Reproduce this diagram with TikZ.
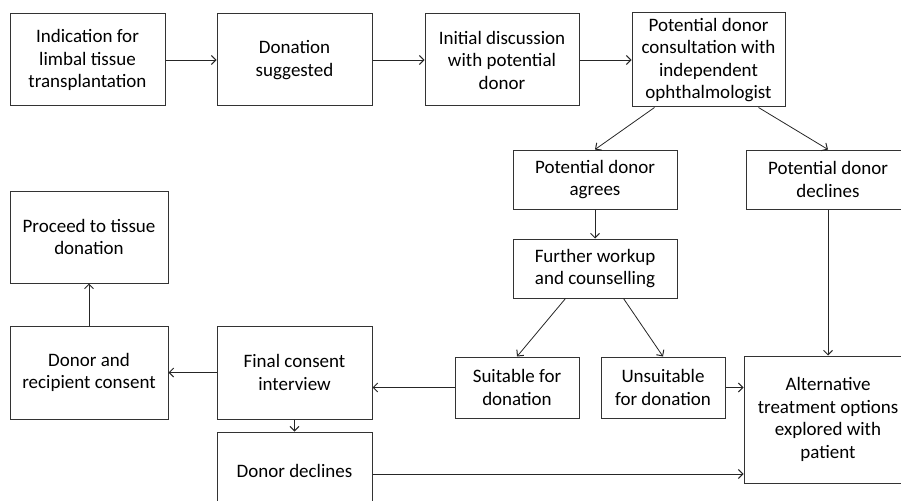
\documentclass[tikz,border=0pt]{standalone}
\usepackage{fontspec}
\setmainfont{Carlito}
\usetikzlibrary{arrows.meta}
\begin{document}
\begin{tikzpicture}
  [x=1pt,y=-1pt,
   every node/.style={draw=black!80,line width=1pt,align=center,inner sep=0pt,
     font=\fontsize{19}{22.5}\selectfont},
   flow/.style={-{Straight Barb[length=4.5pt,width=9pt,line width=1pt]},line width=0.8pt,draw=black!85}]
  \useasboundingbox (0,0) rectangle (901,500);
  % top row
  \node[minimum width=155,minimum height=92] (ind) at (87.5,60) {Indication for\\limbal tissue\\transplantation};
  \node[minimum width=155,minimum height=92] (sugg) at (294.5,60) {Donation\\suggested};
  \node[minimum width=154,minimum height=92] (init) at (502,60) {Initial discussion\\with potential\\donor};
  \node[minimum width=153,minimum height=94] (cons) at (708.5,60) {Potential donor\\consultation with\\independent\\ophthalmologist};
  % right branch
  \node[minimum width=164,minimum height=59] (agree) at (595,179.5) {Potential donor\\agrees};
  \node[minimum width=164,minimum height=59] (decl) at (828,179.5) {Potential donor\\declines};
  \node[minimum width=164,minimum height=59] (work) at (595,268.5) {Further workup\\and counselling};
  \node[minimum width=124,minimum height=61] (suit) at (517,387.5) {Suitable for\\donation};
  \node[minimum width=124,minimum height=61] (unsuit) at (663,387.5) {Unsuitable\\for donation};
  \node[minimum width=168,minimum height=127] (alt) at (828,419.5) {Alternative\\treatment options\\explored with\\patient};
  % left part
  \node[minimum width=158,minimum height=92] (proc) at (89,237) {Proceed to tissue\\donation};
  \node[minimum width=158,minimum height=93] (both) at (89,372.5) {Donor and\\recipient consent};
  \node[minimum width=155,minimum height=93] (final) at (294.5,372.5) {Final consent\\interview};
  \node[minimum width=155,minimum height=78] (ddecl) at (294.5,471) {Donor declines};

  \foreach \from/\to in {ind/sugg,sugg/init,init/cons,agree/work,final/both,both/proc,final/ddecl}
    \draw[flow] (\from) -- (\to);

  \draw[flow] ([xshift=23pt]cons.south west) -- (agree.north);
  \draw[flow] ([xshift=-27pt]cons.south east) -- (decl.north);
  \draw[flow] ([xshift=53pt]work.south west) -- (suit.north);
  \draw[flow] ([xshift=-54pt]work.south east) -- (unsuit.north);
  \draw[flow] (decl.south) -- (decl.south |- alt.north);
  \draw[flow] (unsuit.east) -- (unsuit.east -| alt.west);
  \draw[flow] (suit.west) -- (suit.west -| final.east);
  \draw[flow] ([yshift=-3pt]ddecl.east) -- ([yshift=-3pt]ddecl.east -| alt.west);

\end{tikzpicture}
\end{document}
